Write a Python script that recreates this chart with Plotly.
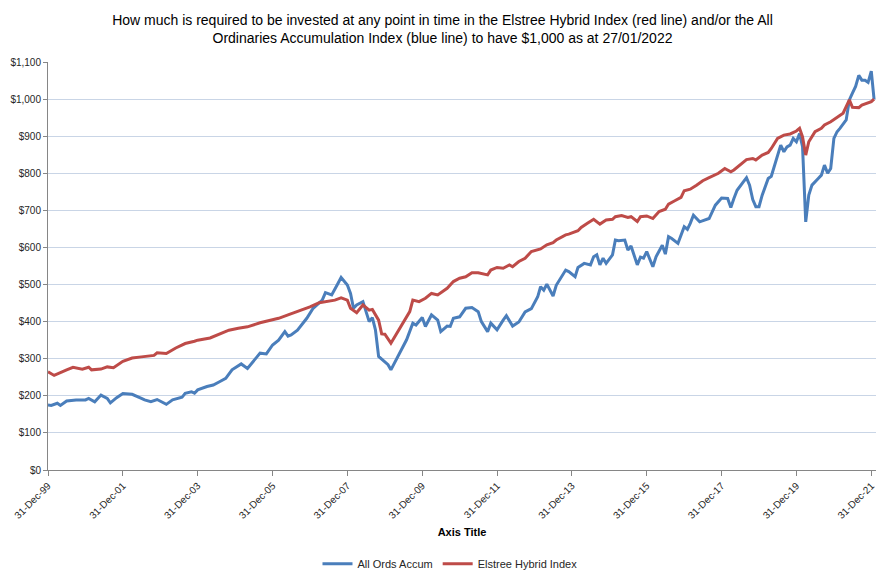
import pandas as pd
import plotly.graph_objects as go

# Month index since 31-Dec-1999 (0 = Dec 1999, 265 = Jan 2022)
ords_month = [0, 1, 3, 4, 6, 9, 12, 13, 15, 17, 19, 20, 22, 24, 27, 28, 30, 31, 33, 35, 36, 38, 40, 43, 44, 46, 47,
              48, 51, 53, 55, 57, 59, 62, 64, 66, 68, 70, 72, 74, 76, 77, 78, 80, 83, 85, 88, 89, 91, 93, 94, 96,
              97, 98, 99, 101, 102, 103, 104, 105, 106, 108, 109, 110, 112, 113, 115, 117, 118, 120, 121, 123, 125,
              126, 128, 129, 130, 132, 134, 136, 138, 139, 141, 142, 144,
              146, 147, 149, 151, 153, 155, 157, 158, 159, 160, 162, 163, 166, 167, 169, 170, 172, 174, 175, 176,
              177, 178, 179, 181, 182, 183, 185, 186, 187, 189, 190, 191, 192, 194,
              195, 197, 198, 199, 200, 202, 204, 205, 206, 207, 209, 211, 212, 214, 216, 218, 219, 220, 221, 223,
              224, 225, 226, 227, 228, 229, 231, 232, 233, 235, 236, 237, 238, 239, 240, 241, 242, 243, 244, 245,
              247, 248, 249, 250, 251, 252, 253, 254, 256, 257, 258, 259, 260, 261, 262, 263, 264, 265]
ords_value = [175, 174, 180, 174, 186, 189, 189, 193, 184, 202, 193, 181, 195, 206, 204, 201, 193, 189, 184, 190, 186, 177, 189, 196, 207, 211, 207,
              216, 225, 229, 238, 247, 270, 286, 274, 295, 315, 313, 337, 350, 373, 361, 364, 377, 409, 436, 458, 478, 472, 503, 519, 499,
              476, 436, 445, 454, 427, 400, 411, 378, 306, 293, 284, 270, 302, 315, 351, 396, 391, 411, 387, 418, 404,
              373, 388, 387, 409, 413, 436, 438, 427, 400, 373, 396, 378,
              404, 416, 388, 399, 426, 435, 467, 494, 485, 501, 469, 498, 539, 535, 521, 546, 557, 553, 575, 580,
              553, 571, 557, 580, 620, 618, 620, 593, 604, 553, 574, 571, 589, 548,
              575, 606, 582, 629, 624, 611, 656, 649, 665, 687, 669, 674, 678, 714, 733, 732, 708, 732, 754, 777,
              788, 768, 729, 710, 710, 741, 786, 792, 822, 876, 858, 871, 876, 894, 885, 907, 872, 669, 741, 768,
              786, 795, 822, 800, 813, 894, 912, 921, 944, 998, 1016, 1034, 1064, 1051, 1051, 1045, 1075, 1000]

elstree_month = [0, 2, 6, 8, 11, 13, 14, 17, 19, 21, 24, 27, 30, 34, 35, 38, 41, 44, 47,
                 48, 52, 55, 58, 61, 64, 68, 71, 74, 77, 80, 84, 87, 90, 92, 94, 96, 97, 99,
                 101, 103, 104, 106, 107, 108, 110, 112, 114, 116, 117, 119, 121, 123, 125, 128, 130, 132, 134,
                 136, 138, 141, 142, 144,
                 146, 148, 149, 151, 153, 155, 158, 160, 162, 163, 166, 167, 170, 171, 173, 175, 177, 179, 181,
                 182, 184, 186, 187, 189, 190, 192, 194,
                 196, 198, 199, 201, 203, 204, 206, 208, 210, 212, 215, 217, 219, 220, 224, 226, 227, 229, 231,
                 232, 234, 236, 238, 240, 241, 242, 243, 244, 246, 248, 249, 251, 253, 255, 256, 257, 258, 260,
                 261, 264, 265]
elstree_value = [265, 255, 270, 277, 272, 277, 270, 272, 278, 276, 293, 302, 305, 309, 316, 314, 329, 341, 347,
                 350, 356, 366, 377, 382, 386, 397, 402, 409, 418, 427, 440, 451, 456, 458, 464, 458, 436, 424,
                 445, 431, 433, 404, 367, 366, 342, 369, 396, 427, 458, 454, 463, 476, 472, 490, 508, 517, 521,
                 532, 532, 526, 539, 546,
                 544, 553, 548, 562, 571, 589, 596, 607, 613, 620, 634, 636, 645, 654, 665, 676, 663, 674, 676,
                 683, 686, 681, 683, 670, 683, 685, 678,
                 697, 703, 717, 726, 735, 753, 757, 768, 780, 788, 800, 813, 804, 809, 837, 840, 836, 849, 856,
                 867, 894, 903, 906, 914, 921, 898, 849, 885, 912, 921, 930, 939, 951, 962, 980, 998, 978, 977,
                 984, 993, 1000]

tick_dates = ["1999-12-31", "2001-12-31", "2003-12-31", "2005-12-31", "2007-12-31", "2009-12-31",
              "2011-12-31", "2013-12-31", "2015-12-31", "2017-12-31", "2019-12-31", "2021-12-31"]
tick_labels = ["31-Dec-99", "31-Dec-01", "31-Dec-03", "31-Dec-05", "31-Dec-07", "31-Dec-09",
               "31-Dec-11", "31-Dec-13", "31-Dec-15", "31-Dec-17", "31-Dec-19", "31-Dec-21"]

month_ends = pd.date_range("1999-12-31", periods=266, freq="ME")
month_ends = month_ends[:-1].append(pd.DatetimeIndex(["2022-01-27"]))

ords_dates = [month_ends[m] for m in ords_month]
elstree_dates = [month_ends[m] for m in elstree_month]

BLUE = "#4A7EBB"
RED = "#BE4B48"
FONT = "Liberation Sans, Arial"

fig = go.Figure()
fig.add_trace(go.Scatter(x=ords_dates, y=ords_value, mode="lines", name="All Ords Accum",
                         line=dict(color=BLUE, width=3)))
fig.add_trace(go.Scatter(x=elstree_dates, y=elstree_value, mode="lines", name="Elstree Hybrid Index",
                         line=dict(color=RED, width=3)))

# The page body has an 8px margin, so the figure is sized to fill the rest of the window.
fig.update_layout(
    width=876, height=570,
    margin=dict(l=40, r=8, t=54, b=108, autoexpand=False),
    paper_bgcolor="white", plot_bgcolor="white",
    title=dict(text="How much is required to be invested at any point in time in the Elstree Hybrid Index (red line) and/or the All<br>Ordinaries Accumulation Index (blue line) to have $1,000 as at 27/01/2022",
               x=0.496, xanchor="center", y=0.971, yanchor="top",
               font=dict(family=FONT, size=14, color="#000000")),
    showlegend=True,
    legend=dict(orientation="h", x=0.4855, xanchor="center", y=-0.194, yanchor="top",
                font=dict(family=FONT, size=11, color="#262626")),
    xaxis=dict(type="date", range=["1999-12-31", "2022-02-15"], automargin=False,
               tickvals=tick_dates, ticktext=tick_labels, tickangle=-45,
               tickfont=dict(family=FONT, size=10, color="#262626"),
               showgrid=False, showline=True, linecolor="#868686", linewidth=1,
               ticks="outside", ticklen=5, tickcolor="#868686",
               title=dict(text="<b>Axis Title</b>", font=dict(family=FONT, size=11, color="#000000"), standoff=8)),
    yaxis=dict(range=[0, 1100], dtick=100, tickformat="$,.0f", automargin=False,
               tickfont=dict(family=FONT, size=10, color="#262626"),
               showgrid=True, gridcolor="#C9D5E6", gridwidth=1,
               showline=True, linecolor="#868686", linewidth=1,
               ticks="outside", ticklen=4, tickcolor="#868686", zeroline=False),
)

fig.write_html("out.html")
